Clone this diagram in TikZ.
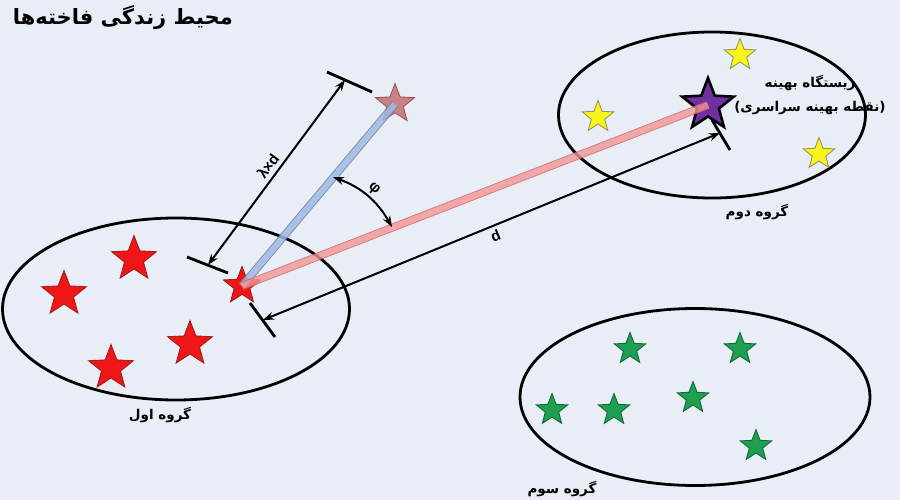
\documentclass[tikz,border=0pt]{standalone}
\usepackage{fontspec}
\setmainfont{Liberation Sans}
\newfontfamily\fafont[Script=Arabic]{DejaVu Sans}
\TeXXeTstate=1
\usetikzlibrary{arrows.meta, positioning, shapes.geometric}
\definecolor{bgc}{RGB}{233,238,246}
\definecolor{redf}{RGB}{238,22,22}
\definecolor{rede}{RGB}{165,30,30}
\definecolor{yelf}{RGB}{250,245,25}
\definecolor{yele}{RGB}{150,150,95}
\definecolor{grnf}{RGB}{30,160,80}
\definecolor{grne}{RGB}{20,105,60}
\definecolor{purf}{RGB}{112,48,160}
\definecolor{tipf}{RGB}{195,112,112}
\definecolor{tipe}{RGB}{160,85,85}
\definecolor{bluel}{RGB}{160,185,225}
\definecolor{bluee}{RGB}{110,130,175}
\definecolor{redl}{RGB}{242,150,150}
\definecolor{rede2}{RGB}{215,100,100}

\begin{document}
\begin{tikzpicture}[x=1pt, y=-1pt,
  grp/.style    = {ellipse, draw=black, line width=2.8pt, inner sep=0pt},
  bird/.style   = {star, star points=5, star point ratio=2.35, inner sep=0pt, line width=0.9pt},
  redb/.style   = {bird, fill=redf, draw=rede, minimum size=47pt},
  yelb/.style   = {bird, fill=yelf, draw=yele, minimum size=33pt},
  grnb/.style   = {bird, fill=grnf, draw=grne, minimum size=33pt},
  ttl/.style    = {font=\fafont\bfseries\fontsize{21}{24}\selectfont, inner sep=0pt},
  lbl/.style    = {font=\fafont\bfseries\fontsize{13.5}{24}\selectfont, inner sep=1pt},
  sym/.style    = {font=\bfseries\fontsize{15}{17}\selectfont, inner sep=2pt},
  dim/.style    = {{Stealth[length=11pt,width=8pt]}-{Stealth[length=11pt,width=8pt]}, line width=2pt},
  endbar/.style = {line width=2.8pt},
  blueray/.style = {draw=bluee, line width=1pt, double=bluel, double distance=6pt},
  redray/.style  = {draw=rede2, line width=1pt, double=redl, double distance=6pt}
]
\fill[bgc] (0,0) rectangle (900,500);

% groups
\node[grp, minimum width=347pt, minimum height=182pt] (g1) at (176,309) {};
\node[grp, minimum width=307pt, minimum height=166pt] (g2) at (712,115) {};
\node[grp, minimum width=350pt, minimum height=177pt] (g3) at (695,397) {};

% cuckoos
\node[redb] (r1) at (64,294) {};
\node[redb] (r2) at (134,259) {};
\node[redb] (r3) at (190,344) {};
\node[redb] (r4) at (111,368) {};
\node[redb, minimum size=39pt] (s0) at (242,286) {};
\node[bird, fill=tipf, draw=tipe, fill opacity=.85, minimum size=41pt] (tip) at (395,104) {};
\node[bird, fill=purf, draw=black, line width=2.6pt, minimum size=54pt] (best) at (708,105) {};

\node[yelb] (y1) at (740,55) {};
\node[yelb] (y2) at (598,117) {};
\node[yelb] (y3) at (819,154) {};

\node[grnb] (n1) at (630,349) {};
\node[grnb] (n2) at (740,349) {};
\node[grnb] (n3) at (693,398) {};
\node[grnb] (n4) at (552,410) {};
\node[grnb] (n5) at (614,410) {};
\node[grnb] (n6) at (756,446) {};

\begin{scope}[transparency group, opacity=.85]
  \draw[blueray] (s0.center) -- (tip.center);
\end{scope}
\begin{scope}[transparency group, opacity=.8]
  \draw[redray] (s0.center) -- (best.center);
\end{scope}

% lambda x d
\coordinate (la1) at (187,257); \coordinate (la2) at (228,273);
\coordinate (lb1) at (327,72);  \coordinate (lb2) at (372,92);
\coordinate (la) at (208,265);  \coordinate (lb) at (345,80);
\draw[endbar] (la1) -- (la2); \draw[endbar] (lb1) -- (lb2);
\draw[dim] (la) -- (lb) node[sym, midway, sloped, above, yshift=2pt] {λ×d};

% d
\coordinate (da1) at (250,303); \coordinate (da2) at (275,337);
\coordinate (db1) at (712,120); \coordinate (db2) at (730,150);
\coordinate (da) at (263,320);  \coordinate (db) at (720,133);
\draw[endbar] (da1) -- (da2); \draw[endbar] (db1) -- (db2);
\draw[dim] (da) -- (db) node[sym, midway, sloped, below, yshift=-2pt] {d};

% phi
\coordinate (ph1) at (333,177); \coordinate (ph2) at (392,227);
\draw[dim] (ph1) to[bend left=20] node[sym, midway, sloped, above, yshift=1pt] {φ} (ph2);

% texts
\node[ttl, anchor=east] (title) at (233,18) {\beginR محیط زندگی فاخته^^^^200cها\endR};
\node[lbl, align=center] (bestlbl) at (810,95) {\beginR زیستگاه بهینه\endR\\\beginR(نقطه بهینه سراسری)\endR};
\node[lbl, below=5pt of g1, xshift=-16pt] (g1lbl) {\beginR گروه اول\endR};
\node[lbl, below=4pt of g2, xshift=45pt] (g2lbl) {\beginR گروه دوم\endR};
\node[lbl] (g3lbl) at (562,489) {\beginR گروه سوم\endR};
\end{tikzpicture}
\end{document}
